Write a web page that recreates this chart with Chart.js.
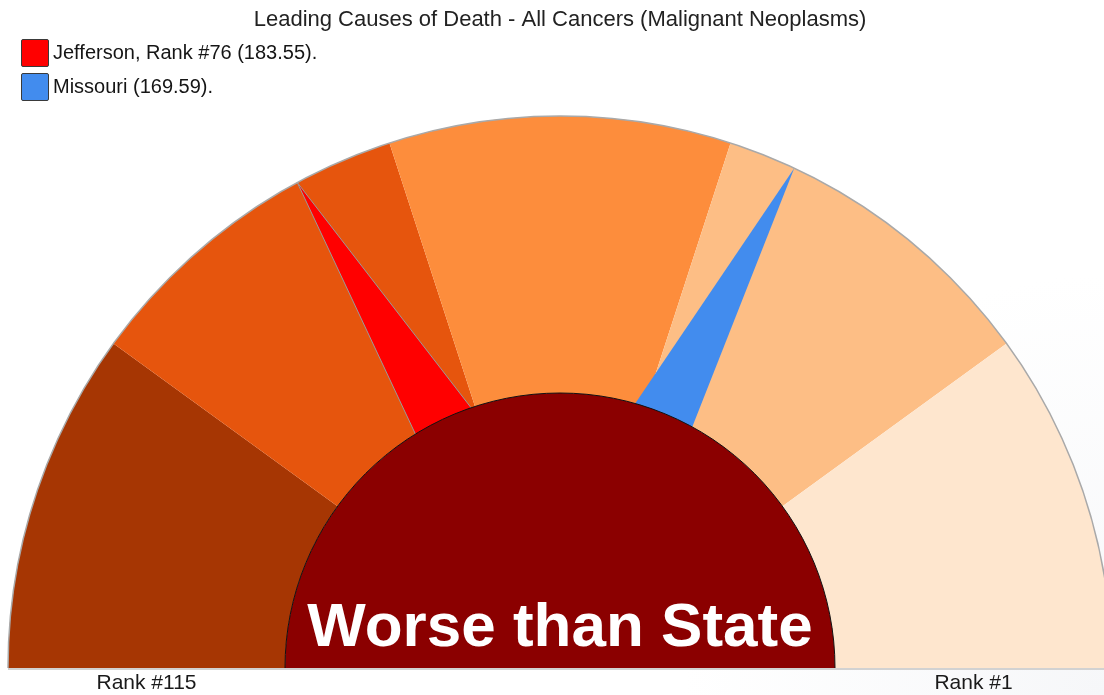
<!DOCTYPE html>
<html>
<head>
<meta charset="utf-8">
<title>Leading Causes of Death - All Cancers</title>
<script src="https://cdn.jsdelivr.net/npm/chart.js@4.4.1/dist/chart.umd.min.js"></script>
<style>
    html, body { margin: 0; padding: 0; }
    body {
        width: 1104px; height: 695px; overflow: hidden;
        background: radial-gradient(circle at 100% 100%, #f6f7f9 0, #ffffff 420px);
        font-family: "Liberation Sans", Arial, sans-serif;
    }
    #wrap { position: relative; width: 1104px; height: 695px; }
    #gauge { position: absolute; left: 0; top: 0; }
    #gauge-legend { position: absolute; left: 21px; top: 38px; }
    .legend-row { display: flex; align-items: center; height: 29px; margin-bottom: 5px; }
    .legend-box {
        width: 26px; height: 26px; border: 1.5px solid #3a3a3a; border-radius: 2px;
        margin-right: 4px; flex: none;
    }
    .legend-text { font-size: 20px; color: #151515; white-space: nowrap; }
</style>
</head>
<body>
<div id="wrap">
    <canvas id="gauge" width="1104" height="695"></canvas>
    <div id="gauge-legend"></div>
</div>
<script>
// gauge bands: 115 counties split in 5 groups, worst rank on the left
const bandLabels = ['Rank 93-115', 'Rank 70-92', 'Rank 47-69', 'Rank 24-46', 'Rank 1-23'];
const bandCounts = [23, 23, 23, 23, 23];
const bandColors = ['#A63603', '#E6550D', '#FD8D3C', '#FDBE85', '#FEE6CE'];

const rankMax = 115;
const rankMin = 1;
const scaleLabels = ['Rank #' + rankMax, 'Rank #' + rankMin];

const needleNames = ['Jefferson', 'Missouri'];
const needleRates = [183.55, 169.59];
const needleCountyRank = [76, null];
const needlePositions = [76, 42.1];
const needleColors = ['#FF0000', '#428CEE'];
const needleEdges = ['#9a9a9a', null];

const hubLabel = 'Worse than State';
const chartTitle = 'Leading Causes of Death - All Cancers (Malignant Neoplasms)';

Chart.defaults.font.family = '"Liberation Sans", Arial, sans-serif';

function rankToAngle(rank) {
    const f = (rankMax - rank) / (rankMax - rankMin);
    return Math.PI + f * Math.PI;
}

const gaugeDecor = {
    id: 'gaugeDecor',
    afterDatasetDraw(chart, args) {
        if (args.index !== 0) return;
        const arc = args.meta.data[0];
        const { x, y, outerRadius } = arc;
        const ctx = chart.ctx;
        ctx.save();
        needlePositions.forEach((pos, i) => {
            const a = rankToAngle(pos);
            const tipX = x + outerRadius * Math.cos(a);
            const tipY = y + outerRadius * Math.sin(a);
            const px = x, py = y - outerRadius * 0.1;
            const dx = tipX - px, dy = tipY - py;
            const len = Math.hypot(dx, dy);
            const nx = -dy / len, ny = dx / len;
            const w = outerRadius * 0.1;
            ctx.beginPath();
            ctx.moveTo(tipX, tipY);
            ctx.lineTo(px + nx * w, py + ny * w);
            ctx.lineTo(px - nx * w, py - ny * w);
            ctx.closePath();
            ctx.fillStyle = needleColors[i];
            ctx.fill();
            if (needleEdges[i]) {
                ctx.strokeStyle = needleEdges[i];
                ctx.lineWidth = 1;
                ctx.stroke();
            }
        });
        ctx.restore();
    },
    afterDatasetsDraw(chart) {
        const ring = chart.getDatasetMeta(0).data[0];
        const hub = chart.getDatasetMeta(1).data[0];
        const { x, y } = ring;
        const R = ring.outerRadius;
        const r = hub.outerRadius;
        const ctx = chart.ctx;
        ctx.save();

        // outer rim
        ctx.beginPath();
        ctx.arc(x, y, R, Math.PI, 2 * Math.PI);
        ctx.strokeStyle = '#a9a9a9';
        ctx.lineWidth = 1.5;
        ctx.stroke();

        // base line
        ctx.beginPath();
        ctx.moveTo(x - R, y + 1);
        ctx.lineTo(x + R, y + 1);
        ctx.strokeStyle = '#d2d2d2';
        ctx.lineWidth = 2;
        ctx.stroke();

        // hub outline
        ctx.beginPath();
        ctx.arc(x, y, r, Math.PI, 2 * Math.PI);
        ctx.strokeStyle = '#111';
        ctx.lineWidth = 1;
        ctx.stroke();

        ctx.fillStyle = '#ffffff';
        ctx.font = 'bold 62px "Liberation Sans", Arial, sans-serif';
        ctx.textAlign = 'center';
        ctx.textBaseline = 'alphabetic';
        ctx.fillText(hubLabel, x, y - 22);

        const mid = (R + r) / 2;
        ctx.fillStyle = '#1a1a1a';
        ctx.font = '21px "Liberation Sans", Arial, sans-serif';
        ctx.textBaseline = 'middle';
        ctx.fillText(scaleLabels[0], x - mid, y + 15);
        ctx.fillText(scaleLabels[1], x + mid, y + 15);
        ctx.restore();
    }
};

new Chart(document.getElementById('gauge').getContext('2d'), {
    type: 'doughnut',
    data: {
        labels: bandLabels,
        datasets: [{
            data: bandCounts,
            backgroundColor: bandColors,
            borderWidth: 0,
            weight: 277,
            order: 1
        }, {
            data: [1],
            backgroundColor: ['#8B0000'],
            borderWidth: 0,
            weight: 275,
            order: 0
        }]
    },
    options: {
        responsive: false,
        animation: false,
        rotation: -90,
        circumference: 180,
        cutout: 0,
        radius: 552,
        layout: { padding: { left: 16, right: 0, top: 0, bottom: 11 } },
        plugins: {
            legend: { display: false },
            tooltip: { enabled: false },
            title: {
                display: true,
                text: chartTitle,
                color: '#222',
                font: { size: 22, weight: 'normal' },
                padding: { top: 7, bottom: 66.6 }
            }
        }
    },
    plugins: [gaugeDecor]
});

const legendEl = document.getElementById('gauge-legend');
legendEl.innerHTML = needleNames.map((name, i) => {
    const rank = needleCountyRank[i] ? `, Rank #${needleCountyRank[i]}` : '';
    return `
        <div class="legend-row">
            <span class="legend-box" style="background:${needleColors[i]}"></span>
            <span class="legend-text">${name}${rank} (${needleRates[i].toFixed(2)}).</span>
        </div>
    `;
}).join('');
</script>
</body>
</html>
